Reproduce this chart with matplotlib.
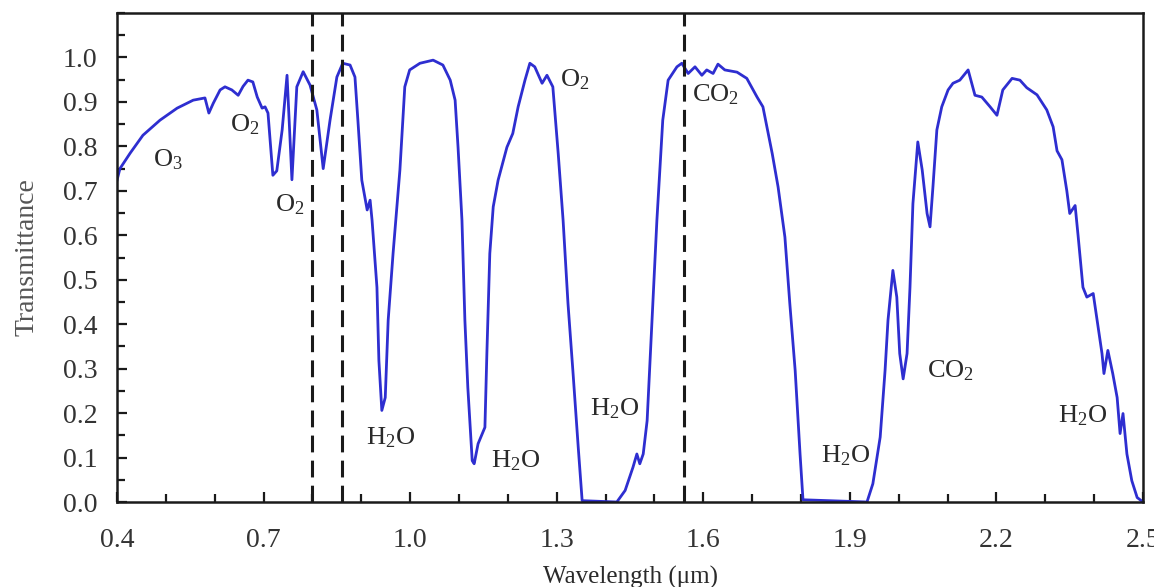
import matplotlib
matplotlib.use("Agg")
import matplotlib.pyplot as plt
from matplotlib.ticker import MultipleLocator

wavelength = [
    0.400, 0.406, 0.427, 0.453, 0.488, 0.523, 0.556, 0.580, 0.588, 0.597,
    0.611, 0.621, 0.635, 0.648, 0.658, 0.668, 0.678, 0.687, 0.697, 0.703,
    0.709, 0.719, 0.727, 0.738, 0.748, 0.758, 0.768, 0.781, 0.795, 0.809,
    0.822, 0.836, 0.850, 0.862, 0.877, 0.887, 0.893, 0.901, 0.912, 0.918,
    0.922, 0.932, 0.936, 0.942, 0.949, 0.955, 0.965, 0.979, 0.989, 0.999,
    1.020, 1.047, 1.067, 1.082, 1.092, 1.098, 1.106, 1.112, 1.118, 1.127,
    1.131, 1.139, 1.153, 1.157, 1.163, 1.170, 1.180, 1.198, 1.210, 1.221,
    1.235, 1.245, 1.255, 1.270, 1.280, 1.292, 1.303, 1.313, 1.323, 1.333,
    1.344, 1.352, 1.423, 1.440, 1.456, 1.464, 1.470, 1.477, 1.485, 1.495,
    1.505, 1.517, 1.528, 1.546, 1.556, 1.569, 1.583, 1.597, 1.607, 1.620,
    1.630, 1.644, 1.669, 1.689, 1.710, 1.722, 1.741, 1.753, 1.767, 1.777,
    1.788, 1.798, 1.804, 1.935, 1.947, 1.962, 1.972, 1.978, 1.988, 1.996,
    2.002, 2.009, 2.017, 2.023, 2.029, 2.039, 2.048, 2.058, 2.064, 2.070,
    2.078, 2.088, 2.101, 2.111, 2.125, 2.142, 2.156, 2.170, 2.187, 2.201,
    2.213, 2.232, 2.248, 2.262, 2.283, 2.303, 2.316, 2.324, 2.334, 2.344,
    2.350, 2.361, 2.367, 2.377, 2.385, 2.398, 2.406, 2.416, 2.420, 2.428,
    2.438, 2.447, 2.453, 2.459, 2.467, 2.477, 2.488, 2.500,
]
transmittance = [
    0.724, 0.750, 0.785, 0.825, 0.859, 0.886, 0.904, 0.909, 0.875, 0.897,
    0.927, 0.934, 0.927, 0.915, 0.935, 0.949, 0.945, 0.911, 0.886, 0.889,
    0.875, 0.735, 0.745, 0.837, 0.960, 0.725, 0.934, 0.968, 0.938, 0.882,
    0.750, 0.859, 0.956, 0.987, 0.983, 0.956, 0.859, 0.724, 0.657, 0.679,
    0.634, 0.483, 0.318, 0.206, 0.235, 0.409, 0.559, 0.747, 0.934, 0.972,
    0.987, 0.994, 0.983, 0.949, 0.904, 0.798, 0.634, 0.409, 0.258, 0.093,
    0.086, 0.131, 0.168, 0.334, 0.559, 0.664, 0.724, 0.798, 0.829, 0.889,
    0.949, 0.987, 0.979, 0.942, 0.960, 0.934, 0.784, 0.634, 0.447, 0.296,
    0.123, 0.003, 0.000, 0.026, 0.078, 0.108, 0.086, 0.108, 0.183, 0.409,
    0.634, 0.859, 0.949, 0.979, 0.987, 0.964, 0.979, 0.960, 0.972, 0.964,
    0.985, 0.972, 0.967, 0.953, 0.911, 0.889, 0.784, 0.709, 0.596, 0.447,
    0.296, 0.108, 0.005, 0.000, 0.041, 0.146, 0.296, 0.409, 0.521, 0.461,
    0.334, 0.277, 0.334, 0.483, 0.671, 0.810, 0.747, 0.649, 0.619, 0.709,
    0.837, 0.889, 0.927, 0.942, 0.949, 0.972, 0.915, 0.911, 0.889, 0.870,
    0.927, 0.953, 0.949, 0.932, 0.916, 0.882, 0.844, 0.790, 0.770, 0.700,
    0.649, 0.667, 0.600, 0.483, 0.461, 0.469, 0.409, 0.334, 0.289, 0.341,
    0.289, 0.235, 0.154, 0.199, 0.108, 0.048, 0.010, 0.000,
]

dashed_lines = [0.80, 0.86, 1.56]

label_texts = ["O$_3$", "O$_2$", "O$_2$", "H$_2$O", "H$_2$O", "O$_2$",
               "H$_2$O", "CO$_2$", "H$_2$O", "CO$_2$", "H$_2$O"]
label_x = [0.504, 0.662, 0.754, 0.959, 1.215, 1.337, 1.419, 1.624, 1.892, 2.105, 2.377]
label_y = [0.769, 0.848, 0.668, 0.145, 0.093, 0.949, 0.210, 0.916, 0.105, 0.296, 0.195]

x_ticks = [0.4, 0.7, 1.0, 1.3, 1.6, 1.9, 2.2, 2.5]
y_ticks = [0.0, 0.1, 0.2, 0.3, 0.4, 0.5, 0.6, 0.7, 0.8, 0.9, 1.0]

plt.rcParams['font.family'] = ['Liberation Serif', 'DejaVu Serif']
plt.rcParams['mathtext.fontset'] = 'custom'
plt.rcParams['mathtext.rm'] = 'Liberation Serif'
plt.rcParams['mathtext.it'] = 'Liberation Serif:italic'

fig = plt.figure(figsize=(11.54, 5.87), dpi=100)
ax = fig.add_axes([0.1014, 0.1448, 0.8891, 0.8330])

ax.plot(wavelength, transmittance, color='#2e2ed0', linewidth=2.0)
for xv in dashed_lines:
    ax.axvline(xv, color='#1a1a1a', linewidth=2.2, linestyle=(0, (5.5, 2.7)))

txt_color = '#2a2a2a'
for t, xv, yv in zip(label_texts, label_x, label_y):
    ax.text(xv, yv, t, fontsize=19, ha='center', va='center', color=txt_color)

ax.set_xlim(0.4, 2.5)
ax.set_ylim(0.0, 1.1)
ax.set_xticks(x_ticks)
ax.set_yticks(y_ticks)
ax.set_xticklabels([f"{v:.1f}" for v in x_ticks])
ax.set_yticklabels([f"{v:.1f}" for v in y_ticks])
ax.xaxis.set_minor_locator(MultipleLocator(0.1))
ax.yaxis.set_minor_locator(MultipleLocator(0.05))
ax.tick_params(which='both', direction='in', top=False, right=False,
               width=1.6, color='#1a1a1a', labelcolor='#333333', labelsize=20)
ax.tick_params(which='major', length=7)
ax.tick_params(which='minor', length=6)
ax.tick_params(axis='x', which='major', pad=19)
ax.tick_params(axis='y', which='major', pad=14)
for s in ax.spines.values():
    s.set_linewidth(1.8)
    s.set_color('#1a1a1a')

ax.set_xlabel("Wavelength (μm)", fontsize=18, color=txt_color, labelpad=9)
ax.set_ylabel("Transmittance", fontsize=20, color='#555555', labelpad=17)

fig.savefig("out.png", dpi=100)
